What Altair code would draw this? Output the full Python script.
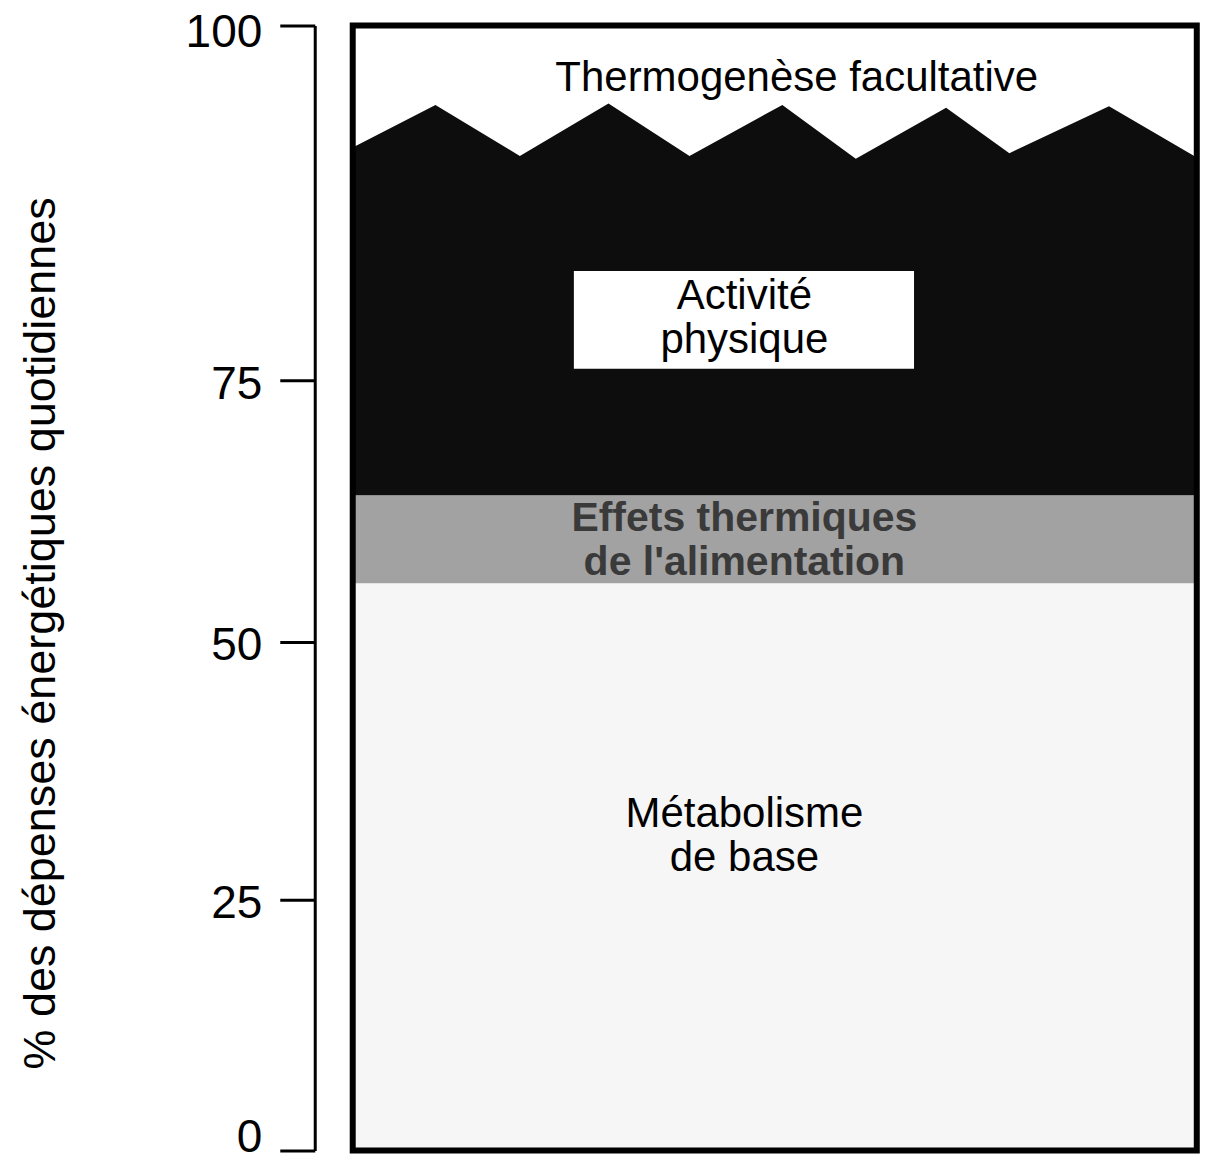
import altair as alt
import pandas as pd

# ---- data (percent of daily energy expenditure) ----
tick_values = [0, 25, 50, 75, 100]
tick_pixels = [1129, 878, 620, 358, 3]  # scanned axis is uneven: piecewise scale

bmr_top = 55.6          # Métabolisme de base
tef_top = 64.0          # Effets thermiques de l'alimentation
total_top = 100.0

# zigzag upper edge of "Activité physique"
act_x = [0, 9.8, 19.8, 30.3, 39.9, 50.9, 59.6, 70.3, 77.8, 89.6, 100]
act_top = [91.4, 94.4, 90.8, 94.5, 90.8, 94.4, 90.6, 94.2, 91.0, 94.3, 90.7]

label_text = ["Thermogenèse facultative", "Activité\nphysique", "Métabolisme\nde base"]
label_x = [52.6, 46.4, 46.4]
label_y = [96.3, 80.9, 33.3]

tef_text = ["Effets thermiques\nde l'alimentation"]
tef_x = [46.4]
tef_y = [61.7]

act_box = {"x": 26.2, "x2": 66.5, "y": 75.8, "y2": 82.7}

FONT = "Liberation Sans"

xscale = alt.Scale(domain=[-4.5, 100.5], nice=False, zero=False)
yscale = alt.Scale(domain=tick_values, range=tick_pixels, nice=False, zero=False)

bands = pd.DataFrame({
    "name": ["bmr", "tef"],
    "x": [0, 0], "x2": [100, 100],
    "y": [0, bmr_top], "y2": [bmr_top, tef_top],
})

band_layer = alt.Chart(bands).mark_rect().encode(
    x=alt.X("x:Q", scale=xscale, axis=None),
    x2="x2:Q",
    y=alt.Y("y:Q", scale=yscale,
            axis=alt.Axis(values=tick_values,
                          title="% des dépenses énergétiques quotidiennes",
                          labelOffset={"condition": [
                              {"test": "datum.value === 0", "value": -13},
                              {"test": "datum.value === 100", "value": 7}],
                              "value": 4})),
    y2="y2:Q",
    color=alt.Color("name:N", scale=alt.Scale(domain=["bmr", "tef"],
                                               range=["#f6f6f6", "#a2a2a2"]), legend=None),
)

act_df = pd.DataFrame({"x": act_x, "y": act_top, "base": [tef_top] * len(act_x)})
act_layer = alt.Chart(act_df).mark_area(color="#0d0d0d", interpolate="linear").encode(
    x=alt.X("x:Q", scale=xscale, axis=None),
    y=alt.Y("y:Q", scale=yscale),
    y2="base:Q",
)

box_df = pd.DataFrame([act_box])
box_layer = alt.Chart(box_df).mark_rect(color="white").encode(
    x=alt.X("x:Q", scale=xscale, axis=None), x2="x2:Q",
    y=alt.Y("y:Q", scale=yscale), y2="y2:Q",
)

lab_df = pd.DataFrame({"t": label_text, "x": label_x, "y": label_y})
text_layer = alt.Chart(lab_df).mark_text(
    font=FONT, fontSize=42, baseline="middle", align="center", color="black",
    lineBreak="\n", lineHeight=44,
).encode(
    x=alt.X("x:Q", scale=xscale, axis=None),
    y=alt.Y("y:Q", scale=yscale),
    text="t:N",
)

tef_df = pd.DataFrame({"t": tef_text, "x": tef_x, "y": tef_y})
tef_layer = alt.Chart(tef_df).mark_text(
    font=FONT, fontSize=41, fontWeight="bold", baseline="middle", align="center",
    color="#3a3a3a", lineBreak="\n", lineHeight=44,
).encode(
    x=alt.X("x:Q", scale=xscale, axis=None),
    y=alt.Y("y:Q", scale=yscale),
    text="t:N",
)

frame_df = pd.DataFrame({"x": [0], "x2": [100], "y": [0], "y2": [total_top]})
frame_layer = alt.Chart(frame_df).mark_rect(fillOpacity=0, stroke="black", strokeWidth=6).encode(
    x=alt.X("x:Q", scale=xscale, axis=None), x2="x2:Q",
    y=alt.Y("y:Q", scale=yscale), y2="y2:Q",
)

chart = alt.layer(band_layer, act_layer, box_layer, text_layer, tef_layer, frame_layer).properties(
    width=887,
    height=1130,
    autosize=alt.AutoSizeParams(type="none"),
    padding={"left": 307, "top": 14, "right": 0, "bottom": 8},
    background="white",
).configure_view(stroke=None).configure_axis(
    domainColor="black", domainWidth=3, tickColor="black", tickWidth=3, tickSize=35,
    labelFont=FONT, labelFontSize=46, labelColor="black", labelPadding=18,
    grid=False,
    titleFont=FONT, titleFontSize=45, titleFontWeight="normal", titleColor="black",
    titleAngle=-90, titleX=-260, titleY=611, titleAlign="center", titleBaseline="alphabetic",
)

chart.save("out.html", embed_options={"renderer": "svg", "actions": False})
